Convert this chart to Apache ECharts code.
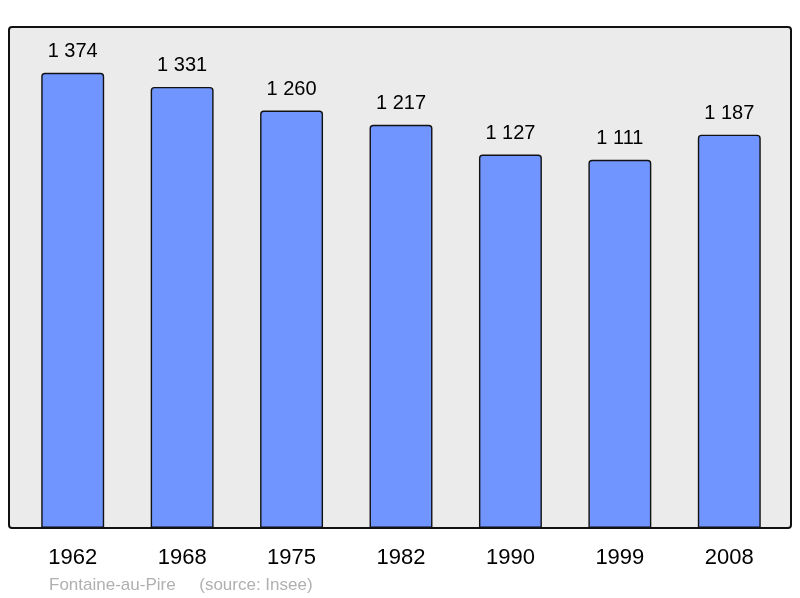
<!DOCTYPE html>
<html>
<head>
<meta charset="utf-8">
<script src="https://cdn.jsdelivr.net/npm/echarts@6/dist/echarts.min.js"></script>
<style>
  html, body { margin: 0; padding: 0; background: #fff; }
  #chart { width: 800px; height: 598px; }
</style>
</head>
<body>
<div id="chart"></div>
<script>
// ── Data ─────────────────────────────────────────────────────
const years      = ['1962', '1968', '1975', '1982', '1990', '1999', '2008'];
const population = [1374, 1331, 1260, 1217, 1127, 1111, 1187];
const footerText = 'Fontaine-au-Pire     (source: Insee)';

// ── Helpers ──────────────────────────────────────────────────
function formatPop(n) {
  return String(n).replace(/\B(?=(\d{3})+(?!\d))/g, ' ');
}

const FONT = '"Liberation Sans", Arial, sans-serif';

// ── Chart ────────────────────────────────────────────────────
const chart = echarts.init(document.getElementById('chart'), null, { renderer: 'canvas' });

chart.setOption({
  backgroundColor: '#ffffff',
  animation: false,
  graphic: [
    {
      type: 'rect',
      z: -10,
      shape: { x: 9, y: 27, width: 782, height: 501, r: 3 },
      style: { fill: '#ebebeb', stroke: '#111', lineWidth: 2 },
    },
    {
      type: 'text',
      left: 49,
      top: 577,
      style: { text: footerText, fill: '#b0b0b0', font: '17px ' + FONT },
    },
  ],
  grid: { left: 18, right: 16, top: 27, bottom: 70 },
  xAxis: {
    type: 'category',
    data: years,
    axisLine: { show: false },
    axisTick: { show: false },
    axisLabel: { color: '#000', fontSize: 22, fontFamily: FONT, margin: 19 },
  },
  yAxis: {
    type: 'value',
    min: 0,
    max: 1512,
    show: false,
    splitLine: { show: false },
  },
  series: [{
    type: 'bar',
    data: population,
    barWidth: '57.5%',
    itemStyle: {
      color: '#7095ff',
      borderColor: '#111',
      borderWidth: 1.4,
      borderRadius: [3, 3, 0, 0],
    },
    label: {
      show: true,
      position: 'top',
      distance: 11,
      color: '#000',
      fontSize: 20,
      fontFamily: FONT,
      formatter: p => formatPop(p.value),
    },
  }],
});
</script>
</body>
</html>
